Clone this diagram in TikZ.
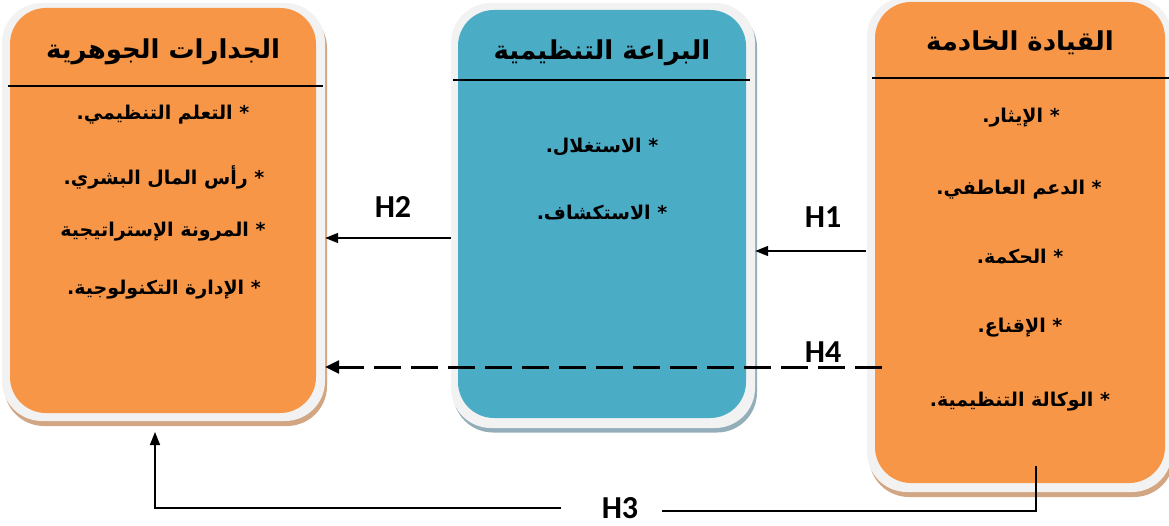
\documentclass[tikz,border=0pt]{standalone}
\usepackage{fontspec}
\usetikzlibrary{arrows.meta}
\TeXXeTstate=1
\newfontfamily\arabicfont[Script=Arabic]{DejaVu Sans}
\newfontfamily\hfont{Carlito}
\newcommand\artext[1]{{\arabicfont\bfseries\beginR #1\endR}}
\definecolor{boxorange}{HTML}{F79646}
\definecolor{boxblue}{HTML}{4BACC6}
\definecolor{rimgrey}{HTML}{F2F2F2}
\definecolor{shadetan}{HTML}{D2A682}
\definecolor{shadeblue}{HTML}{93AEB8}
\begin{document}
\begin{tikzpicture}[x=1pt,y=-1pt,
  panel/.style={rectangle, rounded corners=40pt, inner sep=0pt, draw=none},
  titletext/.style={inner sep=0pt, font=\fontsize{26}{30}\selectfont},
  itemtext/.style={inner sep=0pt, font=\fontsize{19}{23}\selectfont},
  hlabel/.style={inner sep=0pt, font=\hfont\bfseries\fontsize{32}{36}\selectfont},
  headline/.style={line width=1.4pt},
  conn/.style={line width=1.5pt, -{Triangle[length=13pt,width=10pt]}},
  dashconn/.style={line width=3pt, dash pattern=on 27pt off 10pt, -{Triangle[length=14pt,width=13pt]}},
  plainline/.style={line width=1.3pt}]
\useasboundingbox (0,0) rectangle (1169,526);
\clip (0,0) rectangle (1169,526);

% left box
\node[panel, fill=shadetan, minimum width=323pt, minimum height=418pt] at (165.5,217) {};
\node[panel, fill=rimgrey, minimum width=323pt, minimum height=418pt] (Lo) at (163.5,212) {};
\node[panel, fill=boxorange, minimum width=306pt, minimum height=405pt, rounded corners=36pt] (L) at (163,210.5) {};
\draw[headline] (8,86) -- (323,86);

% middle box
\node[panel, fill=shadeblue, minimum width=304pt, minimum height=425pt] at (605,220) {};
\node[panel, fill=rimgrey, minimum width=304pt, minimum height=425pt] (Mo) at (603,215.5) {};
\node[panel, fill=boxblue, minimum width=288pt, minimum height=408pt, rounded corners=36pt] (M) at (602,214) {};
\draw[headline] (453,80) -- (750,80);

% right box
\node[panel, fill=shadetan, minimum width=305pt, minimum height=495pt] at (1021.5,249.5) {};
\node[panel, fill=rimgrey, minimum width=305pt, minimum height=495pt] (Ro) at (1019.5,244.5) {};
\node[panel, fill=boxorange, minimum width=290pt, minimum height=481pt, rounded corners=36pt] (R) at (1020,242.5) {};
\draw[headline] (872,78) -- (1169,78);

% texts left
\node[titletext] (Lt) at (163,52) {\artext{الجدارات الجوهرية}};
\node[itemtext] (L1) at (163,115) {\artext{* التعلم التنظيمي.}};
\node[itemtext] (L2) at (164,177) {\artext{* رأس المال البشري.}};
\node[itemtext] (L3) at (163,232) {\artext{* المرونة الإستراتيجية}};
\node[itemtext] (L4) at (164,290) {\artext{* الإدارة التكنولوجية.}};

% texts middle
\node[titletext] (Mt) at (602,53) {\artext{البراعة التنظيمية}};
\node[itemtext] (M1) at (602,147) {\artext{* الاستغلال.}};
\node[itemtext] (M2) at (602,213) {\artext{* الاستكشاف.}};

% texts right
\node[titletext] (Rt) at (1020,43) {\artext{القيادة الخادمة}};
\node[itemtext] (R1) at (1021,118) {\artext{* الإيثار.}};
\node[itemtext] (R2) at (1019,190) {\artext{* الدعم العاطفي.}};
\node[itemtext] (R3) at (1020,257) {\artext{* الحكمة.}};
\node[itemtext] (R4) at (1020,328) {\artext{* الإقناع.}};
\node[itemtext] (R5) at (1020,402) {\artext{* الوكالة التنظيمية.}};

% labels
\node[hlabel] (H1) at (823,217) {H1};
\node[hlabel] (H2) at (393,207) {H2};
\node[hlabel] (H4) at (823,352) {H4};
\node[hlabel] (H3) at (620,508) {H3};

% connectors
\coordinate (h1s) at (866,251);
\coordinate (h2y) at (0,238);
\coordinate (h4s) at (882,367);
\coordinate (h3top) at (1036,466);
\coordinate (h3bot) at (1036,511);
\coordinate (h3r) at (662,511);
\coordinate (h3l) at (561,508);
\coordinate (h3tip) at (155,432);

\draw[conn] (h1s) -- (h1s -| Mo.east);
\draw[conn] (Mo.west |- h2y) -- (Lo.east |- h2y);
\draw[dashconn] (h4s) -- (h4s -| Lo.east);
\draw[plainline] (h3top) -- (h3bot) -- (h3r);
\draw[conn] (h3l) -| (h3tip);
\end{tikzpicture}
\end{document}
